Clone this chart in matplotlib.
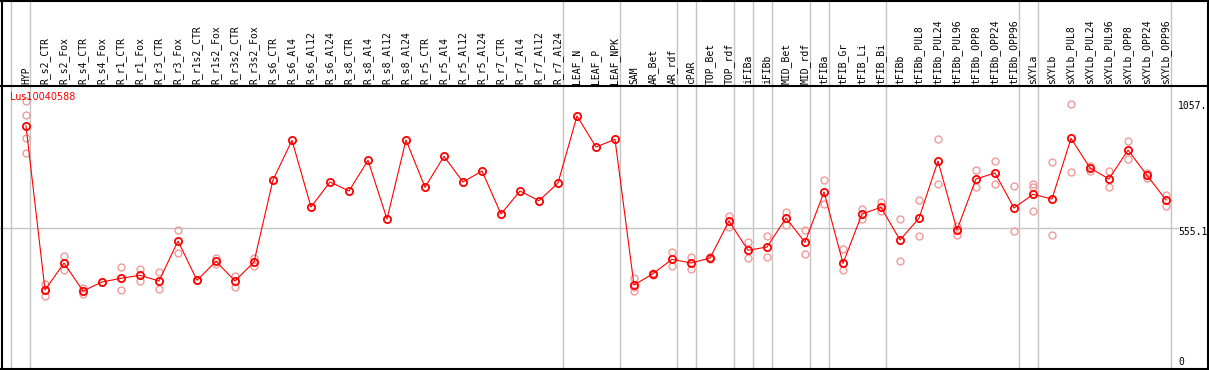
import matplotlib
matplotlib.use("Agg")
import matplotlib.pyplot as plt
from matplotlib.lines import Line2D

# ---------------- data ----------------
gene_id = "Lus10040588"

categories = [
    "HYP", "R_s2_CTR", "R_s2_Fox", "R_s4_CTR", "R_s4_Fox", "R_r1_CTR", "R_r1_Fox",
    "R_r3_CTR", "R_r3_Fox", "R_r1s2_CTR", "R_r1s2_Fox", "R_r3s2_CTR", "R_r3s2_Fox",
    "R_s6_CTR", "R_s6_Al4", "R_s6_Al12", "R_s6_Al24", "R_s8_CTR", "R_s8_Al4",
    "R_s8_Al12", "R_s8_Al24", "R_r5_CTR", "R_r5_Al4", "R_r5_Al12", "R_r5_Al24",
    "R_r7_CTR", "R_r7_Al4", "R_r7_Al12", "R_r7_Al24", "LEAF_N", "LEAF_P", "LEAF_NPK",
    "SAM", "AR_Bet", "AR_rdf", "cPAR", "TOP_Bet", "TOP_rdf", "iFIBa", "iFIBb",
    "MID_Bet", "MID_rdf", "tFIBa", "tFIB_Gr", "tFIB_Li", "tFIB_Bi", "tFIBb",
    "tFIBb_PUL8", "tFIBb_PUL24", "tFIBb_PUL96", "tFIBb_OPP8", "tFIBb_OPP24",
    "tFIBb_OPP96", "sXYLa", "sXYLb", "sXYLb_PUL8", "sXYLb_PUL24", "sXYLb_PUL96",
    "sXYLb_OPP8", "sXYLb_OPP24", "sXYLb_OPP96",
]

means = [
    959.5, 309.3, 416.3, 305.3, 341.0, 355.7, 367.5, 344.9, 503.5, 347.7, 423.0,
    344.9, 420.3, 745.4, 902.8, 638.3, 737.5, 701.8, 823.5, 590.8, 904.0, 716.5,
    839.4, 737.5, 781.1, 610.6, 701.8, 663.3, 733.5, 999.2, 876.2, 906.8,
    329.1, 373.9, 431.0, 416.3, 436.1, 582.8, 466.7, 479.8, 594.7, 498.4, 697.8,
    415.1, 610.6, 637.2, 507.5, 593.9, 820.7, 547.2, 749.4, 773.2, 634.4, 688.7,
    670.1, 910.7, 793.0, 749.4, 864.3, 764.0, 666.1,
]

replicates = [
    [1057.0, 1001.9, 913.1, 853.6], [331.9, 309.3, 286.7], [444.1, 387.4],
    [318.4, 292.2], [341.0], [400.5, 308.1], [392.5, 344.9], [380.6, 312.0],
    [547.2, 454.8], [347.7], [437.3, 412.3], [366.0, 322.3], [436.1, 403.2],
    [], [], [], [], [], [], [], [], [], [], [], [], [], [], [], [], [], [], [],
    [355.7, 321.2, 306.5], [377.9, 369.9], [459.9, 403.2], [441.3, 391.3],
    [441.3, 430.8], [603.9, 557.9], [498.4, 434.9], [523.4, 438.9],
    [618.5, 565.8], [546.0, 450.8], [745.4, 649.1], [470.6, 388.6],
    [631.6, 590.8], [658.2, 621.3], [590.8, 422.3], [666.1, 522.6],
    [906.8, 728.4], [563.0, 528.5], [785.1, 716.5], [820.7, 728.4],
    [720.4, 543.2], [729.5, 718.8, 621.3], [816.8, 526.1], [1046.7, 775.9],
    [800.9, 782.3], [781.1, 716.5], [900.0, 828.7], [774.3, 753.3],
    [684.7, 643.5],
]

# group separators (drawn after these category indices; -1 = before first)
group_ends = [-1, 0, 28, 31, 34, 35, 37, 38, 39, 41, 42, 45, 52, 53, 60]

axis_labels = ["1057.", "555.1", "0"]
axis_values = [1057.0, 555.1, 0.0]

# ---------------- layout ----------------
W, H = 1209, 370
X0, DX = 26.0, 19.0           # pixel of first category, spacing
Y0, SCALE = 368.0, 0.25221    # pixel of value 0 (from top), px per unit

def fx(p):
    return p / W

def fy(p):
    return 1 - p / H

fig = plt.figure(figsize=(W / 100, H / 100), dpi=100)
ax = fig.add_axes([0, 0, 1, 1])
ax.set_axis_off()
ax.set_xlim(-X0 / DX, (W - X0) / DX)
ax.set_ylim((Y0 - H) / SCALE, Y0 / SCALE)

grey = "#c4c4c4"
red = "#ff0000"
pink = "#f09a9a"

# vertical group separators (full height)
for k in group_ends:
    ax.axvline(k + (30.5 - X0) / DX, color=grey, lw=1.0, zorder=1)

# horizontal reference line at mid value
x_end = (1178 - X0) / DX
ax.plot([-X0 / DX, x_end], [axis_values[1], axis_values[1]], color=grey, lw=1.0, zorder=1)

# replicate circles
for i, reps in enumerate(replicates):
    if reps:
        ax.plot([i] * len(reps), reps, linestyle="none", marker="o", ms=5.0,
                mfc="none", mec=pink, mew=1.0, zorder=2)

# mean line + markers
xs = list(range(len(categories)))
ax.plot(xs, means, color=red, lw=0.8, zorder=3)
ax.plot(xs, means, linestyle="none", marker="o", ms=5.2, mfc="none",
        mec=red, mew=1.3, zorder=4)

# category labels in header
for i, c in enumerate(categories):
    ax.text(i, fy(83.5), c, rotation=90, ha="center", va="bottom",
            transform=ax.get_xaxis_transform(), family="DejaVu Sans Mono",
            fontsize=7.0, color="black")

# gene id label
fig.text(fx(10), fy(97), gene_id, color=red, fontsize=6.9, ha="left",
         va="center", family="DejaVu Sans")

# value labels on the right
label_pos = [106.0, 232.0, 362.0]
for lab, p in zip(axis_labels, label_pos):
    fig.text(fx(1178), fy(p), lab, ha="left", va="center",
             family="DejaVu Sans Mono", fontsize=7.0, color="black")

# black frame and header separator
lw_b = 1.5
for (xa, ya, xb, yb) in [(0, 0.8, W, 0.8), (0, 86, W, 86), (0, 368.8, W, 368.8),
                         (1.5, 0, 1.5, H), (1208, 0, 1208, H)]:
    fig.add_artist(Line2D([fx(xa), fx(xb)], [fy(ya), fy(yb)], color="black",
                          lw=lw_b, transform=fig.transFigure))

fig.savefig("out.png", dpi=100, facecolor="white")
